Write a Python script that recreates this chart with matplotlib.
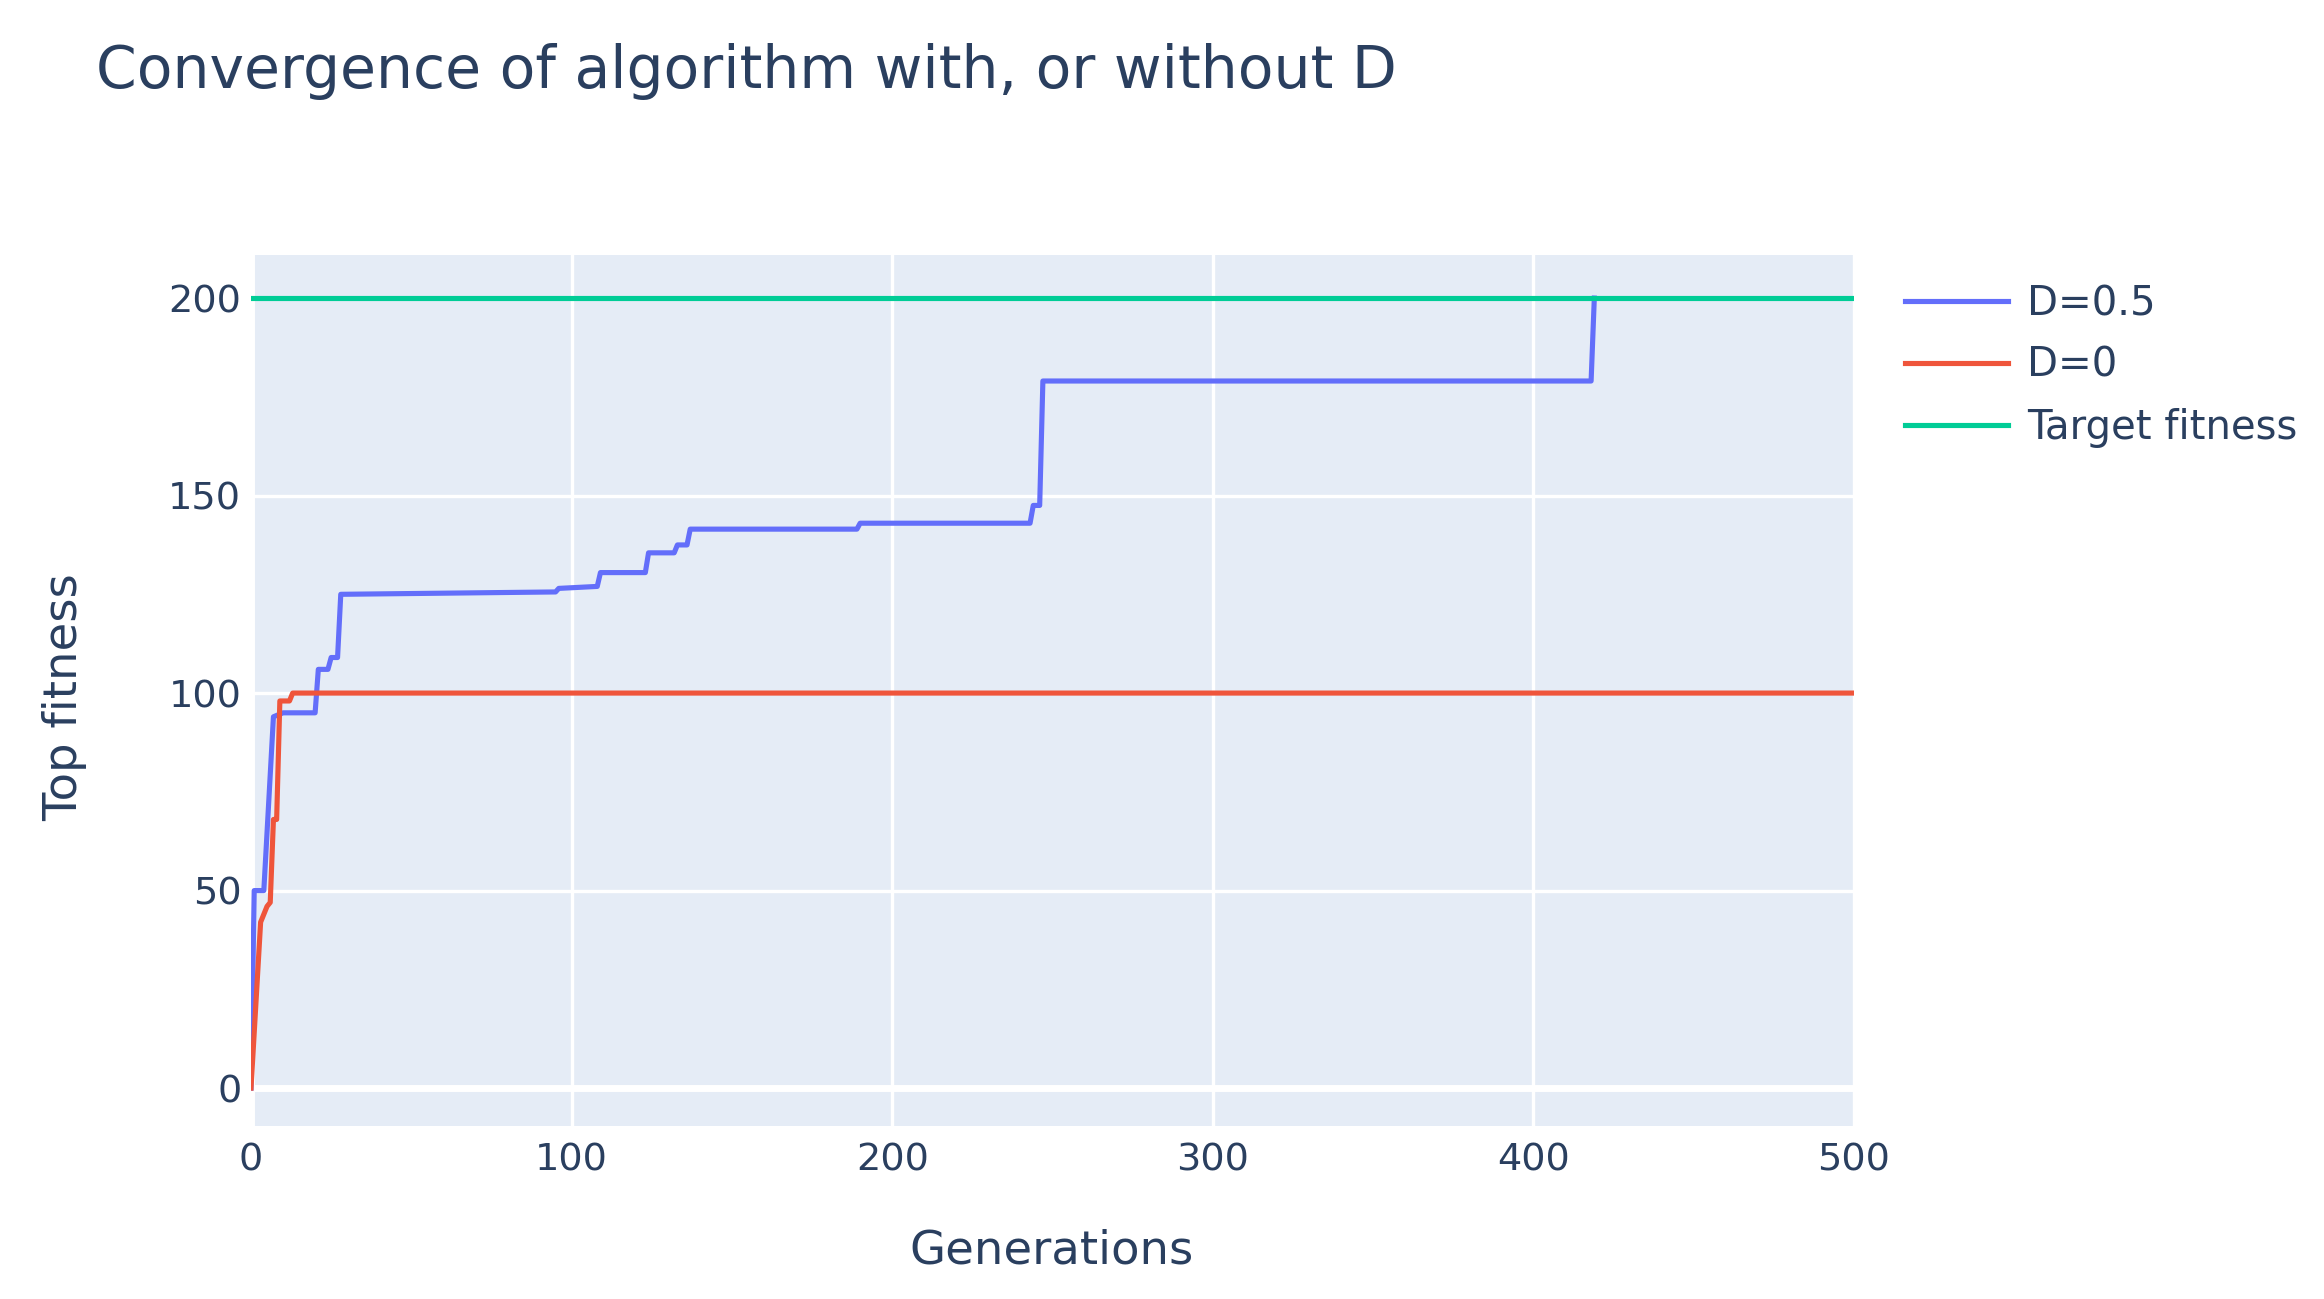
import matplotlib.pyplot as plt

# data
blue_gen = [0, 1, 4, 7, 10, 20, 21, 24, 25, 27, 28, 95, 96, 108, 109, 123, 124,
            132, 133, 136, 137, 189, 190, 243, 244, 246, 247, 418, 419]
blue_fit = [0, 50, 50, 94, 95, 95, 106, 106, 109, 109, 125, 125.6, 126.5, 127,
            130.5, 130.5, 135.5, 135.5, 137.5, 137.5, 141.5, 141.5, 143, 143,
            147.5, 147.5, 179, 179, 200]

red_gen = [0, 3, 5, 6, 7, 8, 9, 12, 13, 500]
red_fit = [0, 42, 46, 47, 68, 68, 98, 98, 100, 100]

target_gen = [0, 500]
target_fit = [200, 200]

labels = ['D=0.5', 'D=0', 'Target fitness']
colors = ['#636EFA', '#EF553B', '#00CC96']
txt = '#2a3f5f'
font = 'DejaVu Sans'

fig = plt.figure(figsize=(23.24, 12.99), dpi=100)
ax = fig.add_axes([251 / 2324, 1 - 1126 / 1299, (1854 - 251) / 2324, (1126 - 255) / 1299])
ax.set_facecolor('#E5ECF6')

ax.plot(blue_gen, blue_fit, color=colors[0], lw=3.7, label=labels[0], zorder=3)
ax.plot(red_gen, red_fit, color=colors[1], lw=3.7, label=labels[1], zorder=3)
ax.plot(target_gen, target_fit, color=colors[2], lw=3.7, label=labels[2], zorder=3)

ax.set_xlim(0, 500)
ax.set_ylim(-9.6, 210.9)
ax.set_xticks([0, 100, 200, 300, 400, 500])
ax.set_yticks([0, 50, 100, 150, 200])
ax.grid(True, color='white', lw=2.4, zorder=1)
ax.set_axisbelow(True)
ax.axhline(0, color='white', lw=5, zorder=2)
ax.axvline(0, color='white', lw=5, zorder=2)
for s in ax.spines.values():
    s.set_visible(False)
ax.tick_params(length=0, labelsize=27.5, labelcolor=txt)
ax.tick_params(axis='y', pad=7)
ax.tick_params(axis='x', pad=12)
for lab in ax.get_xticklabels() + ax.get_yticklabels():
    lab.set_fontfamily(font)

fig.text(65 / 2324, 1 - 697 / 1299, 'Top fitness', rotation=90, ha='center', va='center',
         fontsize=33.5, color=txt, family=font)
fig.text(1052 / 2324, 1 - 1251 / 1299, 'Generations', ha='center', va='center',
         fontsize=33.5, color=txt, family=font)
fig.text(96 / 2324, 1 - 72 / 1299, 'Convergence of algorithm with, or without D',
         ha='left', va='center', fontsize=42, color=txt, family=font)

leg = ax.legend(loc='upper left', bbox_to_anchor=(1885 / 2324, 1 - 264 / 1299),
                bbox_transform=fig.transFigure, frameon=False, borderpad=0,
                handlelength=2.56, handletextpad=0.47, labelspacing=0.54,
                prop={'family': font, 'size': 29})
for t in leg.get_texts():
    t.set_color(txt)

plt.savefig('out.png')
